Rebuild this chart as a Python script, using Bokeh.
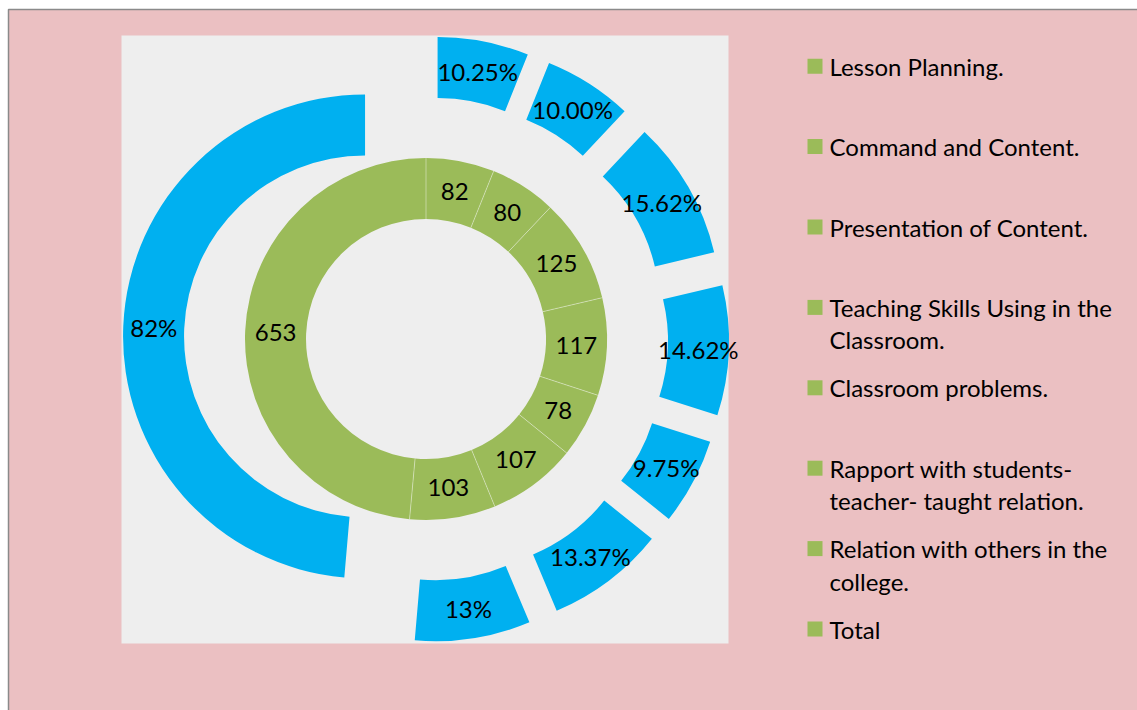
import numpy as np
from bokeh.plotting import figure
from bokeh.models import Range1d, ColumnDataSource
from bokeh.core.properties import value
from bokeh.embed import file_html
from bokeh.resources import INLINE

# ---------------- data ----------------
categories = ["Lesson Planning.", "Command and Content.", "Presentation of Content.",
              "Teaching Skills Using in the Classroom.", "Classroom problems.",
              "Rapport with students-teacher- taught relation.",
              "Relation with others in the college.", "Total"]
legend_lines = [["Lesson Planning."], ["Command and Content."], ["Presentation of Content."],
                ["Teaching Skills Using in the", "Classroom."], ["Classroom problems."],
                ["Rapport with students-", "teacher- taught relation."],
                ["Relation with others in the", "college."], ["Total"]]
counts = [82, 80, 125, 117, 78, 107, 103, 653]
percents = [10.25, 10.00, 15.62, 14.62, 9.75, 13.37, 13, 82]
percent_labels = ["10.25%", "10.00%", "15.62%", "14.62%", "9.75%", "13.37%", "13%", "82%"]

# ---------------- layout (page pixels) ----------------
W, H = 1137, 710
def X(px): return px
def Y(py): return H - py

FONT = value("Lato")
FS = "24px"
PINK = "#ebc0c2"
AREA = "#eeeeee"
GREEN = "#9bbb59"
BLUE = "#00b0f0"

cx, cy = X(425.5), Y(338.5)
r1_in, r1_out = 120, 181
r2_in, r2_out = 181, 242
explode = 61

p = figure(width=W, height=H, x_range=Range1d(0, W), y_range=Range1d(0, H),
           output_backend="svg", toolbar_location=None, min_border=0)
p.axis.visible = False
p.grid.visible = False
p.background_fill_color = "white"
p.border_fill_color = "white"
p.outline_line_color = None

# chart area (pink) with grey border
p.quad(left=[X(8)], right=[X(8) + 2000], top=[Y(9)], bottom=[Y(9) - 2000],
       fill_color=PINK, line_color="#8a8a8a", line_width=1.5)

# plot area
p.quad(left=[X(121)], right=[X(728)], top=[Y(35)], bottom=[Y(643)],
       fill_color=AREA, line_color=None)

def ring_angles(vals):
    v = np.asarray(vals, dtype=float)
    cum = np.concatenate([[0.0], np.cumsum(v)]) / v.sum() * 2 * np.pi
    return cum[:-1], cum[1:]

# inner ring (counts)
s1, e1 = ring_angles(counts)
m1 = (s1 + e1) / 2
src1 = ColumnDataSource(dict(
    start=np.pi / 2 - s1, end=np.pi / 2 - e1,
    lx=cx + (r1_in + r1_out) / 2 * np.sin(m1), ly=cy + (r1_in + r1_out) / 2 * np.cos(m1),
    label=[str(c) for c in counts]))
p.annular_wedge(x=cx, y=cy, inner_radius=r1_in, outer_radius=r1_out,
                start_angle="start", end_angle="end", direction="clock",
                fill_color=GREEN, line_color=None, source=src1)
p.segment(x0=cx + r1_in * np.sin(s1), y0=cy + r1_in * np.cos(s1),
          x1=cx + r1_out * np.sin(s1), y1=cy + r1_out * np.cos(s1),
          line_color="white", line_alpha=0.4, line_width=1)
p.text(x="lx", y="ly", text="label", source=src1, text_font=FONT, text_font_size=FS,
       text_align="center", text_baseline="middle", text_color="black")

# outer ring (percentages), exploded
s2, e2 = ring_angles(percents)
m2 = (s2 + e2) / 2
ox = cx + explode * np.sin(m2)
oy = cy + explode * np.cos(m2)
src2 = ColumnDataSource(dict(
    x=ox, y=oy, start=np.pi / 2 - s2, end=np.pi / 2 - e2,
    lx=ox + (r2_in + r2_out) / 2 * np.sin(m2), ly=oy + (r2_in + r2_out) / 2 * np.cos(m2),
    label=percent_labels))
p.annular_wedge(x="x", y="y", inner_radius=r2_in, outer_radius=r2_out,
                start_angle="start", end_angle="end", direction="clock",
                fill_color=BLUE, line_color=None, source=src2)
p.text(x="lx", y="ly", text="label", source=src2, text_font=FONT, text_font_size=FS,
       text_align="center", text_baseline="middle", text_color="black")

# legend
row0, row_step, line_step = 65.7, 80.4, 32.5
sq_x, sq_size, txt_x = 814.5, 15, 829
mk_y = [Y(row0 + i * row_step) for i in range(len(categories))]
p.rect(x=[X(sq_x)] * len(categories), y=mk_y, width=sq_size, height=sq_size,
       fill_color=GREEN, line_color=None)
tx, ty, tt = [], [], []
for i, lines in enumerate(legend_lines):
    for j, ln in enumerate(lines):
        tx.append(X(txt_x))
        ty.append(Y(row0 + i * row_step + j * line_step))
        tt.append(ln)
p.text(x=tx, y=ty, text=tt, text_font=FONT, text_font_size=FS,
       text_align="left", text_baseline="middle", text_color="black")

open("out.html", "w").write(file_html(p, INLINE))
